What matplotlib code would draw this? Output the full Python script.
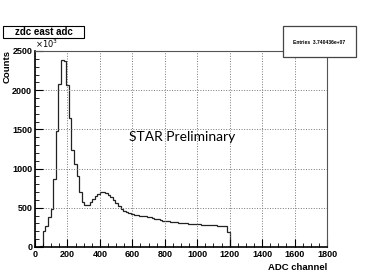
import numpy as np
import matplotlib
matplotlib.use("Agg")
import matplotlib.pyplot as plt
from matplotlib.patches import Rectangle
from matplotlib.ticker import MultipleLocator

# bin edges: width 16 ADC channels
bin_width = 16
counts = [
    0, 0, 15, 205, 270, 380, 480, 870, 1480, 2080,
    2390, 2370, 2065, 1640, 1240, 1060, 910, 700, 575, 535,
    540, 575, 610, 645, 680, 700, 700, 690, 665, 635,
    600, 560, 520, 490, 465, 445, 430, 418, 410, 405,
    400, 397, 393, 388, 380, 370, 360, 352, 344, 337,
    332, 327, 322, 318, 314, 311, 308, 305, 302, 299,
    296, 293, 290, 288, 286, 284, 282, 280, 278, 276,
    274, 272, 270, 267, 195, 0,
]
edges = np.arange(len(counts) + 1) * bin_width

x_ticks = [0, 200, 400, 600, 800, 1000, 1200, 1400, 1600, 1800]
y_ticks = [0, 500, 1000, 1500, 2000, 2500]

fig = plt.figure(figsize=(3.68, 2.76), dpi=100)
ax = fig.add_axes([35 / 368, 1 - 247 / 276, 292 / 368, 196 / 276])

ax.stairs(counts, edges, color="#222222", lw=0.9)

ax.set_xlim(0, 1800)
ax.set_ylim(0, 2500)
ax.set_xticks(x_ticks)
ax.set_yticks(y_ticks)
ax.xaxis.set_minor_locator(MultipleLocator(50))
ax.yaxis.set_minor_locator(MultipleLocator(100))
ax.tick_params(which="both", direction="in", top=False, right=False,
               labelsize=6.5, pad=2)
ax.tick_params(which="major", length=6, width=0.8)
ax.tick_params(which="minor", length=3, width=0.6)
for lab in ax.get_xticklabels() + ax.get_yticklabels():
    lab.set_fontweight("bold")
    lab.set_family("Liberation Sans")
ax.grid(True, which="major", ls=":", color="#777777", lw=0.7)
for s in ax.spines.values():
    s.set_color("#555555")
    s.set_linewidth(0.8)
ax.spines["left"].set_color("black")
ax.spines["bottom"].set_color("black")
ax.spines["left"].set_linewidth(1.2)
ax.spines["bottom"].set_linewidth(1.2)

# y title and multiplier
fig.text(7 / 368, 1 - 50 / 276, "Counts", rotation=90, ha="center", va="top",
         fontsize=6.8, fontweight="bold", family="Liberation Sans")
fig.text(35 / 368, 1 - 50 / 276, r"$\times10^{3}$", ha="left", va="bottom",
         fontsize=6, family="Liberation Sans")
fig.text(327 / 368, 1 - 267 / 276, "ADC channel", ha="right", va="center",
         fontsize=6.8, fontweight="bold", family="Liberation Sans")

# title box
fig.patches.append(Rectangle((3 / 368, 1 - 38 / 276), 81 / 368, 12 / 276,
                             transform=fig.transFigure, fc="white", ec="black", lw=0.8))
fig.text(43.5 / 368, 1 - 32 / 276, "zdc east adc", ha="center", va="center",
         fontsize=7, fontweight="bold", family="Liberation Sans")

# stats box
fig.patches.append(Rectangle((283 / 368, 1 - 57 / 276), 73 / 368, 31 / 276,
                             transform=fig.transFigure, fc="white", ec="#444444", lw=0.9,
                             zorder=5))
fig.text(319.5 / 368, 1 - 42 / 276, "Entries  3.740436e+07", ha="center", va="center",
         fontsize=3.6, fontweight="bold", family="Liberation Sans", zorder=6)

ax.text(905, 1400, "STAR Preliminary", ha="center", va="center",
        fontsize=10, family="Lato")

fig.savefig("out.png", dpi=100, facecolor="white")
